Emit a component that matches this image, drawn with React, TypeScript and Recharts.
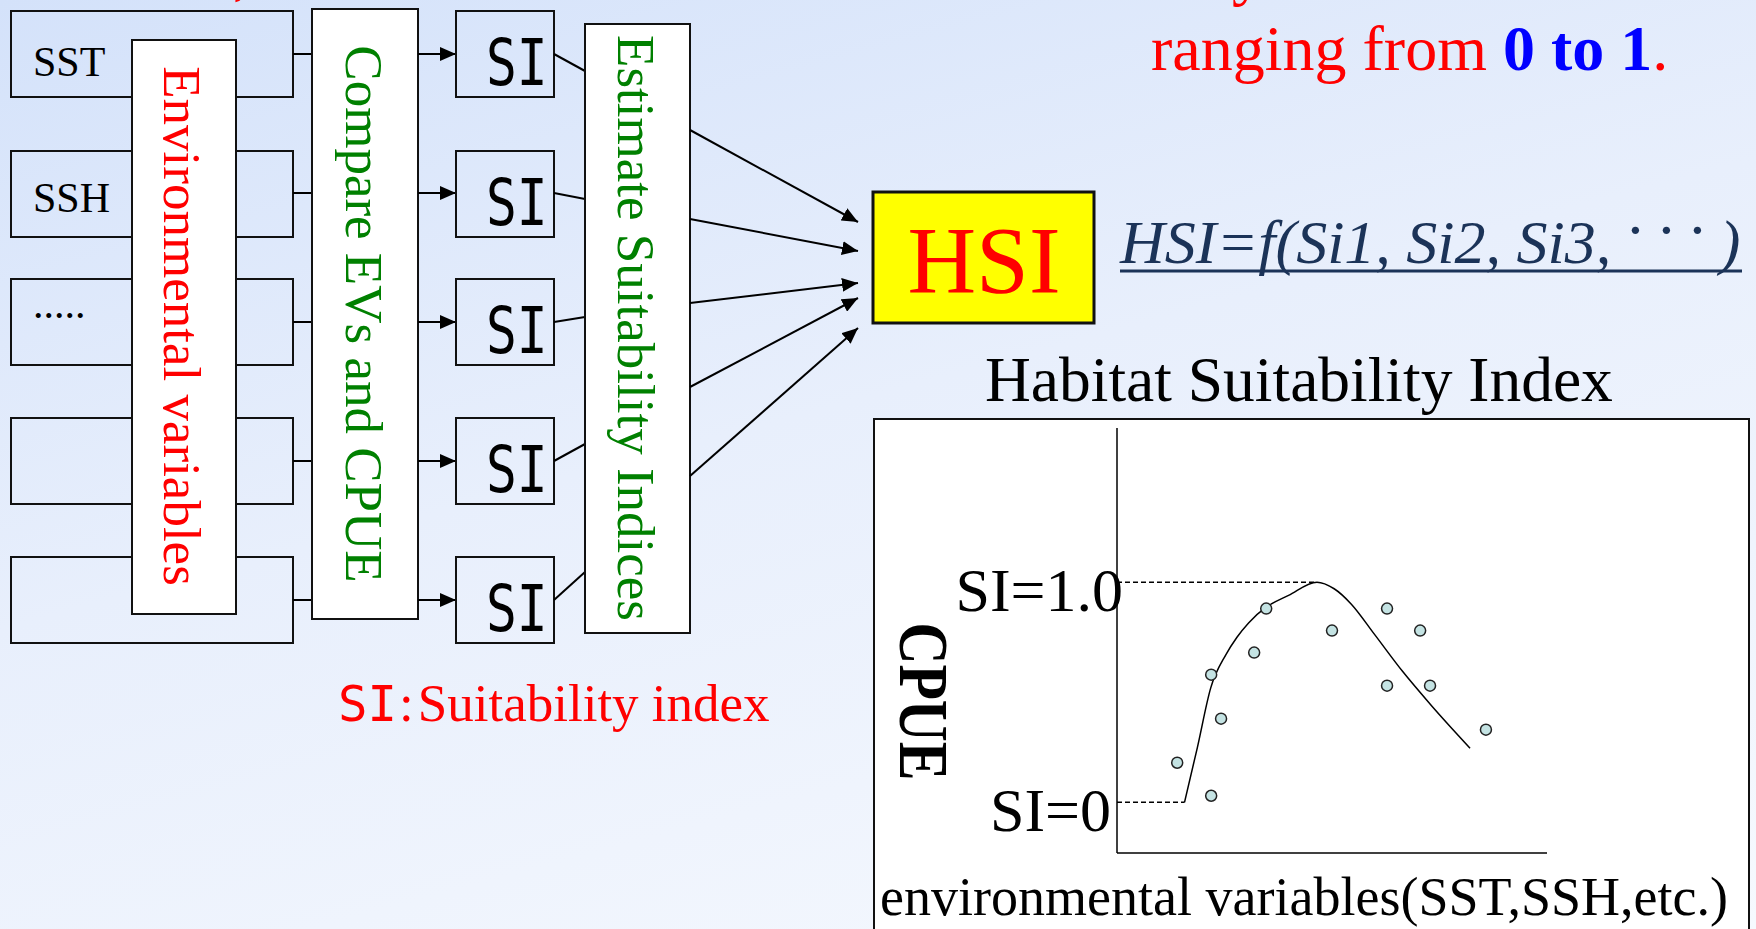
import React from "react";
import { ComposedChart, Line, Scatter, XAxis, YAxis, ReferenceLine, Label } from "recharts";

const SERIF = "Liberation Serif";
const MONO = "DejaVu Sans Mono";

// fitted suitability curve: environmental variable -> SI
const curveX = [1.57, 1.87, 2.18, 2.53, 2.79, 3.06, 3.46, 3.99, 4.65, 5.05, 5.45, 5.98, 6.64, 7.31, 8.21];
const curveY = [0, 0.25, 0.52, 0.67, 0.75, 0.815, 0.885, 0.94, 1.0, 0.97, 0.9, 0.765, 0.595, 0.44, 0.246];

// observed CPUE points
const obsX = [1.4, 2.19, 2.19, 2.42, 3.19, 3.47, 5.0, 6.28, 6.28, 7.05, 7.28, 8.58];
const obsY = [0.18, 0.03, 0.58, 0.38, 0.68, 0.88, 0.78, 0.88, 0.53, 0.78, 0.53, 0.33];

const siTicks = [0, 1];
const siTickLabels = ["SI=0", "SI=1.0"];
const siTickShift = [-3, 9];
const curveStartX = 1.57;
const curvePeakX = 4.65;

// flow diagram rows
const rowTops = [11, 151, 279, 418, 557];
const rowMid = [54, 193, 322, 461, 600];
const evLabels = ["SST", "SSH", "....."];
const evBaselines = [76, 212, 318];
const siJoinY = [71, 199, 317, 444, 572];
const hsiFromY = [130, 219, 303, 387, 476];
const hsiToY = [222, 251, 283, 298, 328];

const fitCurve = curveX.map((x, i) => ({ x, y: curveY[i] }));
const observations = obsX.map((x, i) => ({ x, y: obsY[i] }));

const Dot = (p: any) => (
  <circle cx={p.cx} cy={p.cy} r={5.5} fill="#c4e3e3" stroke="#222" strokeWidth={1.5} />
);

const SiTick = (p: any) => {
  const i = siTicks.indexOf(p.payload.value);
  return (
    <text x={p.x + siTickShift[i]} y={p.y + 29} textAnchor="end" fontSize={62} fontFamily={SERIF} fill="#000">
      {siTickLabels[i]}
    </text>
  );
};

function HsiChart() {
  return (
    <ComposedChart width={876} height={511} margin={{ top: 10, right: 202, left: 124, bottom: 16 }}>
      <XAxis dataKey="x" type="number" domain={[0, 10]} tick={false} tickLine={false} height={60}
        axisLine={{ stroke: "#000", strokeWidth: 1.5 }}>
        <Label content={(p: any) => (
          <text x={p.viewBox.x + p.viewBox.width / 2 - 28} y={p.viewBox.y + 62} textAnchor="middle"
            fontSize={54} fontFamily={SERIF} fill="#000">environmental variables(SST,SSH,etc.)</text>
        )} />
      </XAxis>
      <YAxis dataKey="y" type="number" domain={[-0.23, 1.7]} ticks={siTicks} width={120}
        tickLine={false} tickSize={0} tickMargin={3} tick={<SiTick />} interval={0}
        axisLine={{ stroke: "#000", strokeWidth: 1.5 }}>
        <Label content={(p: any) => (
          <text transform={`translate(${p.viewBox.x - 97},${p.viewBox.y + p.viewBox.height / 2 + 61}) rotate(90) scale(1,1.2)`}
            textAnchor="middle" fontSize={58} fontWeight="bold" fontFamily={SERIF} fill="#000">CPUE</text>
        )} />
      </YAxis>
      <ReferenceLine segment={[{ x: 0, y: 1 }, { x: curvePeakX, y: 1 }]} stroke="#000" strokeWidth={1.5} strokeDasharray="5 3" />
      <ReferenceLine segment={[{ x: 0, y: 0 }, { x: curveStartX, y: 0 }]} stroke="#000" strokeWidth={1.5} strokeDasharray="5 3" />
      <Line data={fitCurve} dataKey="y" type="monotone" dot={false} stroke="#000" strokeWidth={1.5} isAnimationActive={false} />
      <Scatter data={observations} dataKey="y" shape={Dot} isAnimationActive={false} />
    </ComposedChart>
  );
}

export default function App() {
  const box = { fill: "none", stroke: "#111", strokeWidth: 2 };
  return (
    <div style={{
      position: "absolute", left: 0, top: 0, width: 1756, height: 929, overflow: "hidden",
      background: "linear-gradient(165deg, #d4e2fa 0%, #e8effc 45%, #f6f9fe 100%)",
    }}>
      <svg width={1756} height={929} style={{ position: "absolute", left: 0, top: 0 }}>
        <defs>
          <marker id="ah" markerWidth={16} markerHeight={14} refX={16} refY={7} orient="auto" markerUnits="userSpaceOnUse">
            <path d="M0,0 L16,7 L0,14 z" fill="#000" />
          </marker>
        </defs>

        {/* tail of the line above, cut by the frame */}
        <text x={233} y={-7} fontSize={64} fontFamily={SERIF} fill="#ff0000">,</text>
        <text x={1232} y={-7} fontSize={64} fontFamily={SERIF} fill="#ff0000">y</text>

        {rowTops.map((t, i) => <rect key={"ev" + i} x={11} y={t} width={282} height={86} {...box} />)}
        {evLabels.map((s, i) => (
          <text key={"evt" + i} x={33} y={evBaselines[i]} fontSize={42} fontFamily={SERIF} fill="#000">{s}</text>
        ))}

        <rect x={132} y={40} width={104} height={574} {...box} fill="#fff" />
        <text transform="translate(164,326) rotate(90)" textAnchor="middle" fontSize={53} fontFamily={SERIF}
          fill="#ff0000">Environmental variables</text>

        {rowMid.map((m, i) => <line key={"a" + i} x1={293} x2={312} y1={m} y2={m} stroke="#000" strokeWidth={2} />)}

        <rect x={312} y={9} width={106} height={610} {...box} fill="#fff" />
        <text transform="translate(346,314) rotate(90)" textAnchor="middle" fontSize={53} fontFamily={SERIF}
          fill="#008000">Compare EVs and CPUE</text>

        {rowMid.map((m, i) => (
          <line key={"b" + i} x1={418} x2={456} y1={m} y2={m} stroke="#000" strokeWidth={2} markerEnd="url(#ah)" />
        ))}

        {rowTops.map((t, i) => (
          <g key={"si" + i}>
            <rect x={456} y={t} width={98} height={86} {...box} />
            <text transform={`translate(486,${t + 74}) scale(0.8,1)`} fontSize={64} fontFamily={MONO} fill="#000">SI</text>
            <line x1={554} y1={rowMid[i]} x2={585} y2={siJoinY[i]} stroke="#000" strokeWidth={2} />
          </g>
        ))}

        <rect x={585} y={24} width={105} height={609} {...box} fill="#fff" />
        <text transform="translate(618,328) rotate(90)" textAnchor="middle" fontSize={53} fontFamily={SERIF}
          fill="#008000">Estimate Suitability Indices</text>

        {hsiFromY.map((y, i) => (
          <line key={"h" + i} x1={690} y1={y} x2={858} y2={hsiToY[i]} stroke="#000" strokeWidth={2} markerEnd="url(#ah)" />
        ))}

        <rect x={873} y={192} width={221} height={131} fill="#ffff00" stroke="#111" strokeWidth={3} />
        <text x={984} y={293} textAnchor="middle" fontSize={95} fontFamily={SERIF} fill="#ff0000">HSI</text>

        <text x={1120} y={263} fontSize={62} fontStyle="italic" fontFamily={SERIF} fill="#1b3358">
          HSI=f(Si1, Si2, Si3, <tspan dy={-12}>· · · </tspan><tspan dy={12}>)</tspan>
        </text>
        <line x1={1120} x2={1742} y1={271} y2={271} stroke="#1b3358" strokeWidth={3} />

        <text x={1151} y={70} fontSize={64} fontFamily={SERIF} fill="#ff0000">
          ranging from <tspan fill="#0000ff" fontWeight="bold">0 to 1</tspan>.
        </text>

        <text x={985} y={401} fontSize={63.5} fontFamily={SERIF} fill="#000">Habitat Suitability Index</text>

        <text x={338} y={721} fontSize={49} fontFamily={MONO} fill="#ff0000">
          SI<tspan fontFamily={SERIF} fontSize={53} dx={2}>:</tspan><tspan fontFamily={SERIF} fontSize={53} dx={4}>Suitability index</tspan>
        </text>
      </svg>

      <div style={{
        position: "absolute", left: 873, top: 418, width: 877, height: 530,
        background: "#fff", border: "2px solid #111", boxSizing: "border-box",
      }} />
      <div style={{ position: "absolute", left: 873, top: 418 }}>
        <HsiChart />
      </div>
    </div>
  );
}
